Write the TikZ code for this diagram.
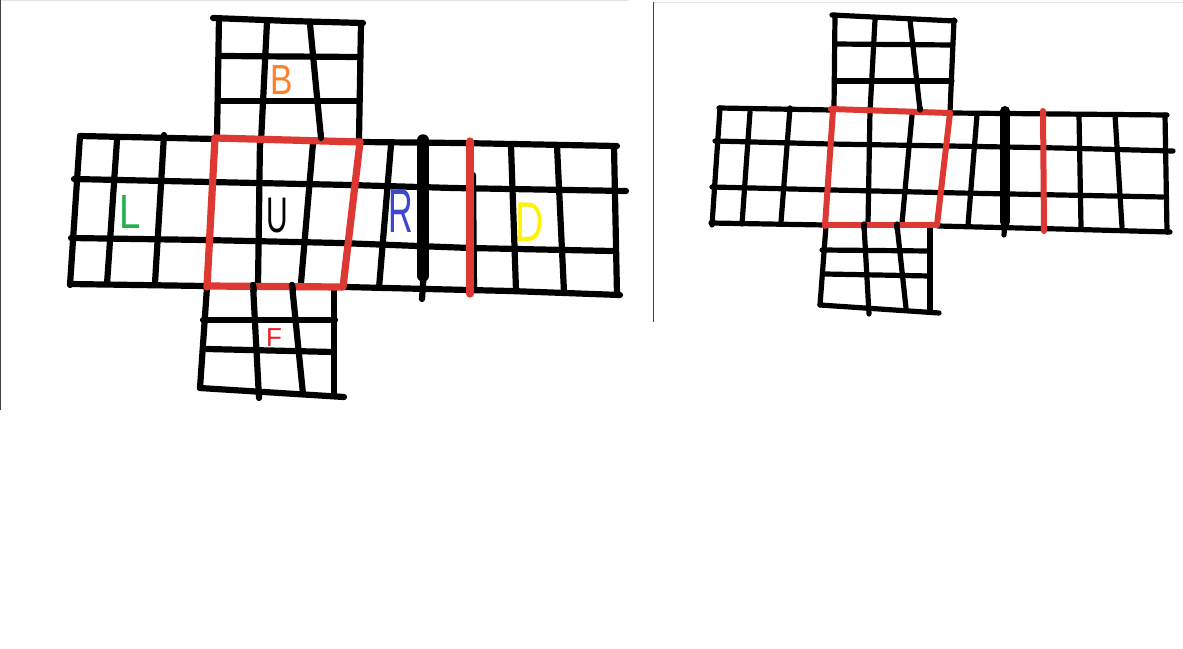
\documentclass[tikz,border=0pt]{standalone}
\usepackage{fontspec}
\setmainfont{Liberation Sans}
\definecolor{penred}{RGB}{222,56,50}
\definecolor{frameline}{RGB}{64,64,64}
\definecolor{frametop}{RGB}{226,226,226}
\tikzset{
 gridA/.style={draw=black,line width=6.2pt,line cap=round,line join=round},
 redA/.style={draw=penred,line width=7.2pt,line cap=round,line join=round},
 gridB/.style={draw=black,line width=5.2pt,line cap=round,line join=round},
 redB/.style={draw=penred,line width=6pt,line cap=round,line join=round},
 letter/.style={inner sep=0pt,outer sep=0pt,anchor=center},
}
\newcommand{\letterfont}[1]{\fontsize{#1}{#1}\selectfont}
\begin{document}
\begin{tikzpicture}[x=1pt,y=-1pt]
\useasboundingbox (0,0) rectangle (1183,648);
\fill[white] (0,0) rectangle (1183,648);
% frames
\draw[frametop,line width=1.5pt] (0,0.7) -- (628,0.7);
\draw[frametop,line width=1.5pt] (654,2.5) -- (1183,2.5);
\draw[frameline,line width=1pt] (0.5,0) -- (0.5,410);
\draw[frameline,line width=1pt] (653.5,2) -- (653.5,322);

% ---------- left figure: black
\path[gridA] (213,18) -- (290,21) -- (363,23);
\path[gridA] (221,56) -- (360,57);
\path[gridA] (220,101) -- (360,101);
\path[gridA] (219,18) -- (217,138);
\path[gridA] (267,22) -- (261,142);
\path[gridA] (310,24) -- (321,138);
\path[gridA] (361,23) -- (359,139);
\path[gridA] (80,136) -- (216,139);
\path[gridA] (360,142) -- (460,143) -- (617,146);
\path[gridA] (74,179) -- (210,182) -- (350,185) -- (453,188) -- (626,191);
\path[gridA] (71,238) -- (205,240) -- (340,243) -- (470,248) -- (612,251);
\path[gridA] (70,284) -- (205,286);
\path[gridA] (345,287) -- (510,291) -- (620,295);
\path[gridA] (80,136) -- (70,285);
\path[gridA] (117,140) -- (107,284);
\path[gridA] (164,135) -- (155,283);
\path[gridA] (260,140) -- (258,285);
\path[gridA] (313,143) -- (301,283);
\path[gridA] (391,145) -- (379,288);
\path[gridA] (473,175) -- (474,290);
\path[gridA] (511,146) -- (516,290);
\path[gridA] (557,146) -- (564,292);
\path[gridA] (614,146) -- (617,295);
\draw[black,line width=11.5pt,line cap=round] (423,140) -- (423,276);
\path[gridA] (424,270) -- (422,299);
% F face
\path[gridA] (207,287) -- (200,388);
\path[gridA] (200,388) -- (344,397);
\path[gridA] (203,320) -- (335,320);
\path[gridA] (207,349) -- (333,352);
\path[gridA] (253,285) -- (259,398);
\path[gridA] (292,285) -- (303,394);
\path[gridA] (334,288) -- (334,396);
% left figure: red
\path[redA] (215,138) -- (360,142);
\path[redA] (215,138) -- (207,287);
\path[redA] (207,286) -- (342,287);
\path[redA] (360,142) -- (343,287);
\path[redA] (470,141) -- (470,294);
\path[gridA] (253,285) -- (254,290);
\path[gridA] (292,285) -- (293,290);
\path[gridA] (321,134) -- (321,138);

% ---------- right figure: black
\path[gridB] (832,15) -- (955,21);
\path[gridB] (835,44) -- (952,45);
\path[gridB] (835,81) -- (952,81);
\path[gridB] (835,15) -- (834,108);
\path[gridB] (875,20) -- (870,112);
\path[gridB] (910,20) -- (920,110);
\path[gridB] (954,20) -- (950,112);
\path[gridB] (719,108) -- (832,110);
\path[gridB] (952,113) -- (1167,115);
\path[gridB] (715,141) -- (830,144) -- (950,146) -- (1060,148) -- (1173,151);
\path[gridB] (712,187) -- (833,190) -- (960,193) -- (1163,197);
\path[gridB] (711,223) -- (825,225);
\path[gridB] (938,226) -- (1060,229) -- (1170,232);
\path[gridB] (720,108) -- (712,225);
\path[gridB] (750,112) -- (742,224);
\path[gridB] (790,108) -- (781,222);
\path[gridB] (870,110) -- (868,224);
\path[gridB] (912,115) -- (902,223);
\path[gridB] (977,115) -- (968,225);
\path[gridB] (1079,115) -- (1081,227);
\path[gridB] (1115,115) -- (1122,227);
\path[gridB] (1165,115) -- (1167,232);
\draw[black,line width=10pt,line cap=round] (1005,111) -- (1005,222);
\path[gridB] (1005,220) -- (1004,235);
% F face
\path[gridB] (826,226) -- (820,305);
\path[gridB] (820,305) -- (939,313);
\path[gridB] (822,250) -- (930,251);
\path[gridB] (825,274) -- (930,276);
\path[gridB] (864,225) -- (869,314);
\path[gridB] (897,225) -- (906,308);
\path[gridB] (930,226) -- (930,312);
% right figure: red
\path[redB] (831,109) -- (950,113);
\path[redB] (833,110) -- (825,226);
\path[redB] (825,225) -- (937,225);
\path[redB] (950,113) -- (937,225);
\path[redB] (1043,111) -- (1044,231);
\path[gridB] (864,224) -- (864,228);
\path[gridB] (897,224) -- (897,228);
\path[gridB] (920,108) -- (920,110);

% ---------- letters
\node[letter,text={rgb,255:red,255;green,127;blue,39}] (faceB) at (282,80) {\letterfont{42}\scalebox{0.8}[1]{B}};
\node[letter,text={rgb,255:red,34;green,177;blue,76}] (faceL) at (130,212) {\letterfont{48}\scalebox{0.8}[1]{L}};
\node[letter,text=black] (faceU) at (277,216) {\letterfont{50}\scalebox{0.6}[1]{U}};
\node[letter,text={rgb,255:red,63;green,72;blue,204}] (faceR) at (401,211) {\letterfont{62}\scalebox{0.55}[1]{R}};
\node[letter,text={rgb,255:red,255;green,242;blue,0}] (faceD) at (530,222) {\letterfont{56}\scalebox{0.7}[1]{D}};
\node[letter,text={rgb,255:red,237;green,28;blue,36}] (faceF) at (274,338) {\letterfont{26}F};
\end{tikzpicture}
\end{document}
